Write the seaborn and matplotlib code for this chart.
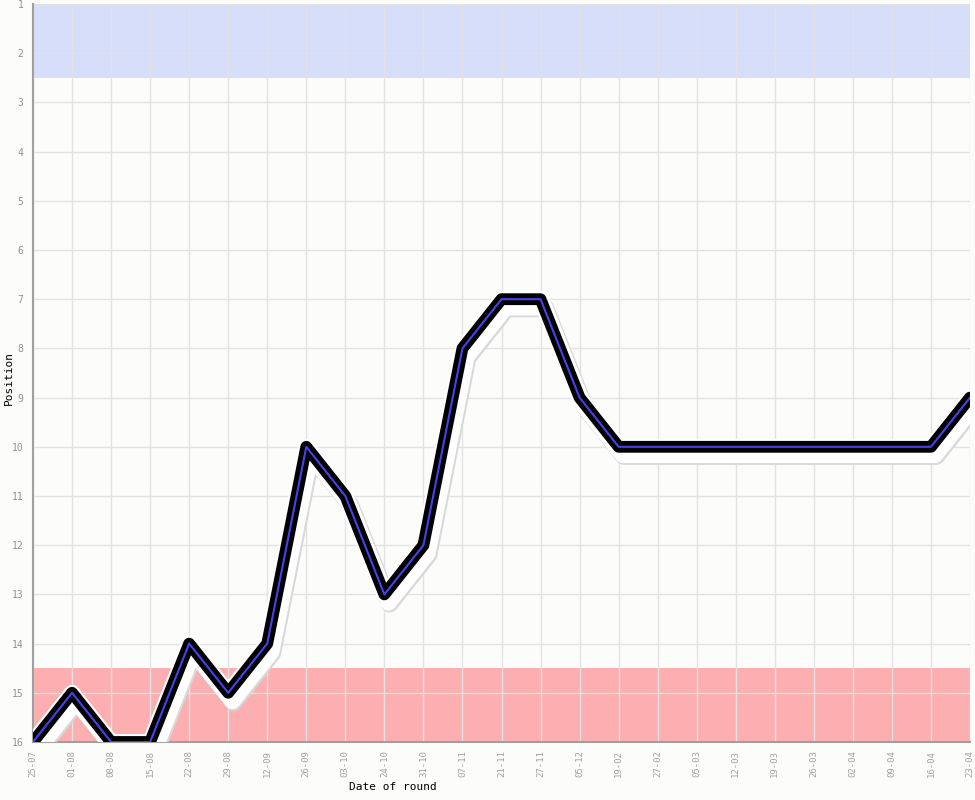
import matplotlib
matplotlib.use("Agg")
import matplotlib.pyplot as plt
import matplotlib.patheffects as pe
import seaborn as sns
import pandas as pd

dates = ["25-07", "01-08", "08-08", "15-08", "22-08", "29-08", "12-09", "26-09",
         "03-10", "24-10", "31-10", "07-11", "21-11", "27-11", "05-12", "19-02",
         "27-02", "05-03", "12-03", "19-03", "26-03", "02-04", "09-04", "16-04", "23-04"]
positions = [16, 15, 16, 16, 14, 15, 14, 10, 11, 13, 12, 8, 7, 7, 9, 10,
             10, 10, 10, 10, 10, 10, 10, 10, 9]
top_zone = (1, 2.5)
bottom_zone = (14.5, 16)

df = pd.DataFrame({"date": dates, "pos": positions, "idx": range(len(dates))})

sns.set_style("white")
plt.rcParams["font.family"] = ["DejaVu Sans Mono", "DejaVu Sans"]

fig = plt.figure(figsize=(9.75, 8), dpi=100, facecolor="#fcfdfb")
ax = fig.add_axes([33/975, 1-742/800, 937/975, 738/800])
ax.set_facecolor("#fcfdfb")

ax.axhspan(top_zone[0], top_zone[1], color="#d6defa", zorder=0, lw=0)
ax.axhspan(bottom_zone[0], bottom_zone[1], color="#fcaeb0", zorder=0, lw=0)

for i in range(len(dates)):
    ax.axvline(i, color="#e2e2e2", lw=1, zorder=1)
for y in range(1, 17):
    ax.axhline(y, color="#e2e2e2", lw=1, zorder=1)

sh = (3, -6)
sns.lineplot(data=df, x="idx", y="pos", ax=ax, color="#4a40ea", lw=1.5, zorder=5,
             path_effects=[
                 pe.SimpleLineShadow(offset=(sh[0] + 0.8, sh[1] - 0.8), shadow_color="#d8d8d8", alpha=1, linewidth=12.5),
                 pe.Stroke(offset=sh, linewidth=11.5, foreground="white"),
                 pe.Stroke(linewidth=11.5, foreground="white"),
                 pe.Stroke(linewidth=8.5, foreground="black"),
                 pe.Normal()])

ax.set_xlim(0, len(dates) - 1)
ax.set_ylim(16, 1)
ax.set_xticks(range(len(dates)))
ax.set_xticklabels(dates, rotation=90, fontsize=6.5, color="#a0a0a0")
ax.set_yticks(range(1, 17))
ax.set_yticklabels([str(v) for v in range(1, 17)], fontsize=7, color="#909090")
ax.tick_params(axis="both", length=3, width=0.8, color="#a0a0a0", pad=3)
ax.tick_params(axis="y", length=2, pad=5)
ax.grid(False)

for s in ["top", "right"]:
    ax.spines[s].set_visible(False)
for s in ["left", "bottom"]:
    ax.spines[s].set_color("#a0a0a0")
    ax.spines[s].set_linewidth(1.5)

ax.set_xlabel("Date of round", fontsize=8, color="black")
ax.set_ylabel("Position", fontsize=8, color="black")
ax.xaxis.set_label_coords((393 - 33) / 937, -(782 - 742) / 738)
ax.yaxis.set_label_coords(-(33 - 14) / 937, (742 - 378) / 738)

fig.savefig("out.png", dpi=100, facecolor=fig.get_facecolor())
